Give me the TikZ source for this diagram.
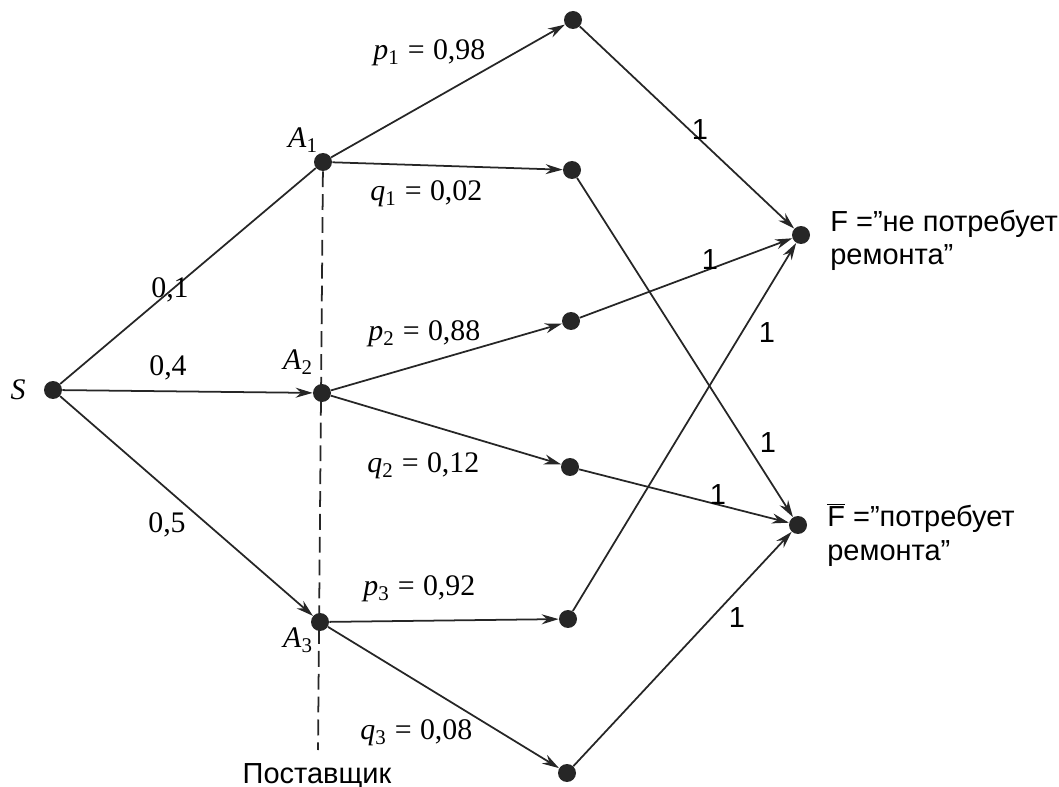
\documentclass[tikz,border=0pt]{standalone}
\usepackage{fontspec}
\setmainfont{Liberation Serif}
\newfontfamily\ruSans{Liberation Sans}
\usetikzlibrary{arrows.meta}

\newcommand{\prob}[3]{\textit{#1}\textsubscript{#2}\;=\;#3}

\begin{document}
\begin{tikzpicture}[x=0.02cm, y=-0.02cm,
    dot/.style={circle, fill=black!85, inner sep=0pt, minimum size=0.36cm},
    edge/.style={-{Stealth[length=0.34cm, width=0.2cm]}, line width=1pt, black!85},
    lbl/.style={font=\fontsize{17}{19}\selectfont},
    pq/.style={lbl, anchor=west, inner sep=0pt},
    one/.style={font=\ruSans\fontsize{16.5}{19}\selectfont}]
  \useasboundingbox (0,0) rectangle (1059,787);

  % nodes of the tree
  \node[dot] (S) at (53,390) {};
  \node[dot] (A1) at (323,162) {};
  \node[dot] (A2) at (322,393) {};
  \node[dot] (A3) at (320,622) {};
  \node[dot] (T1) at (573,20) {};
  \node[dot] (T2) at (572,170) {};
  \node[dot] (T3) at (571,321) {};
  \node[dot] (T4) at (570,467) {};
  \node[dot] (T5) at (568,619) {};
  \node[dot] (T6) at (567,773) {};
  \node[dot] (F) at (801,235) {};
  \node[dot] (Fn) at (798,525) {};

  % supplier line
  \coordinate (sup) at (318,750);
  \draw[line width=1pt, black!85, dash pattern=on 9pt off 4pt] (A1) -- (sup);
  \node[one, anchor=base] (supl) at (317,783) {Поставщик};

  \draw[line width=1pt, black!85] (S) -- (A1);
  \draw[edge] (S) -- (A2);
  \draw[edge] (S) -- (A3);
  \draw[edge] (A1) -- (T1);
  \draw[edge] (A1) -- (T2);
  \draw[edge] (A2) -- (T3);
  \draw[edge] (A2) -- (T4);
  \draw[edge] (A3) -- (T5);
  \draw[edge] (A3) -- (T6);
  \draw[edge] (T1) -- (F);
  \draw[edge] (T3) -- (F);
  \draw[edge] (T5) -- (F);
  \draw[edge] (T2) -- (Fn);
  \draw[edge] (T4) -- (Fn);
  \draw[edge] (T6) -- (Fn);

  % labels
  \node[lbl] (lS) at (18,390) {\textit{S}};
  \node[lbl] (lA1) at (303,140) {\textit{A}\textsubscript{1}};
  \node[lbl] (lA2) at (298,362) {\textit{A}\textsubscript{2}};
  \node[lbl] (lA3) at (298,640) {\textit{A}\textsubscript{3}};
  \node[lbl] (l01) at (170,290) {0,1};
  \node[lbl] (l04) at (168,368) {0,4};
  \node[lbl] (l05) at (167,525) {0,5};
  \node[pq] (p1) at (373,53) {\prob{p}{1}{0,98}};
  \node[pq] (q1) at (370,194) {\prob{q}{1}{0,02}};
  \node[pq] (p2) at (368,334) {\prob{p}{2}{0,88}};
  \node[pq] (q2) at (367,466) {\prob{q}{2}{0,12}};
  \node[pq] (p3) at (363,589) {\prob{p}{3}{0,92}};
  \node[pq] (q3) at (360,733) {\prob{q}{3}{0,08}};

  \node[one] (o1) at (700,130) {1};
  \node[one] (o3) at (710,260) {1};
  \node[one] (o5) at (767,333) {1};
  \node[one] (o2) at (768,443) {1};
  \node[one] (o4) at (718,495) {1};
  \node[one] (o6) at (737,618) {1};

  \node[one, anchor=base west, align=left, inner sep=0pt] (Ftxt) at (830,265)
    {F =”не потребует\\ремонта”};
  \node[one, anchor=base west, align=left, inner sep=0pt] (Fntxt) at (827,560)
    {$\overline{\mbox{F}}$ =”потребует\\ремонта”};
\end{tikzpicture}
\end{document}
